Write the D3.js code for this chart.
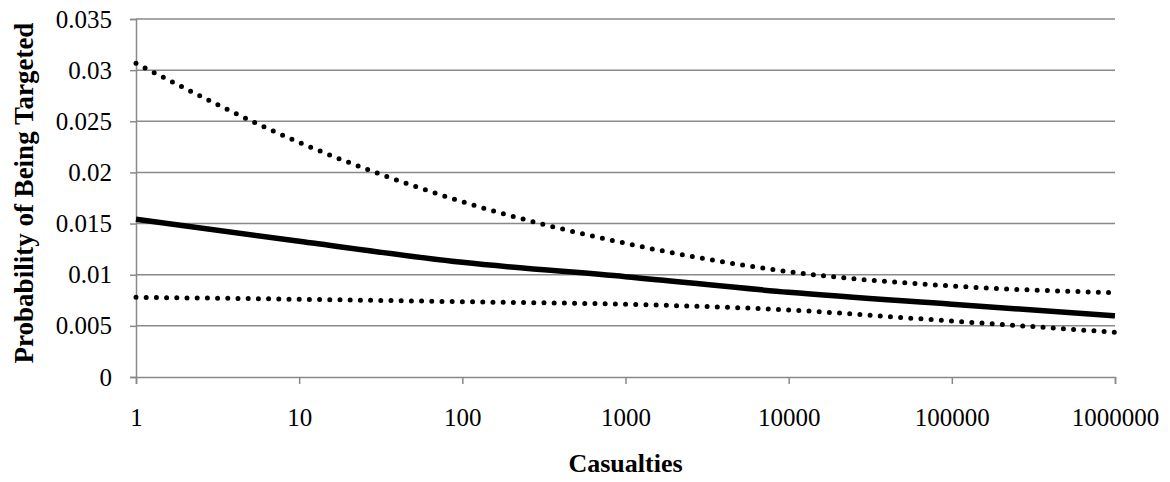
<!DOCTYPE html>
<html><head><meta charset="utf-8">
<script src="https://cdn.jsdelivr.net/npm/d3@7"></script>
<style>
html,body{margin:0;padding:0;background:#fff;}
svg{display:block;font-family:"Liberation Serif","Times New Roman",serif;}
</style></head>
<body><svg id="c" width="1170" height="482"></svg>
<script>
const casualties = [1, 10, 100, 1000, 10000, 100000, 1000000];
const estimate   = [0.01542, 0.01327, 0.01121, 0.00981, 0.00828, 0.00711, 0.00599];
const upperBound = [0.03067, 0.02294, 0.01714, 0.01307, 0.01030, 0.00890, 0.00824];
const lowerBound = [0.00779, 0.00760, 0.00736, 0.00711, 0.00655, 0.00547, 0.00437];
const xTickValues = [1, 10, 100, 1000, 10000, 100000, 1000000];
const yTickValues = [0, 0.005, 0.01, 0.015, 0.02, 0.025, 0.03, 0.035];
const xTitle = "Casualties";
const yTitle = "Probability of Being Targeted";

const svg = d3.select("#c");
const L = 136, R = 1115, T = 19, B = 377;
const x = d3.scaleLog().domain([1, 1000000]).range([L, R]);
const y = d3.scaleLinear().domain([0, 0.035]).range([B, T]);
const grey = "#898989";
const fs = 25;

// gridlines
svg.append("g").selectAll("line").data(yTickValues.filter(d => d > 0)).join("line")
  .attr("x1", L).attr("x2", R).attr("y1", d => y(d)).attr("y2", d => y(d))
  .attr("stroke", grey).attr("stroke-width", 1.5);

// y axis
const yAxis = svg.append("g").attr("transform", `translate(${L},0)`)
  .call(d3.axisLeft(y).tickValues(yTickValues).tickSize(6).tickPadding(18)
    .tickFormat(d => d === 0 ? "0" : String(+d.toFixed(3))));
yAxis.select(".domain").attr("stroke", grey).attr("stroke-width", 1.5);
yAxis.selectAll(".tick line").attr("stroke", grey).attr("stroke-width", 1.5);
yAxis.selectAll("text").attr("font-size", fs).attr("fill", "#000")
  .attr("font-family", "Liberation Serif");

// x axis
const xAxis = svg.append("g").attr("transform", `translate(0,${B})`)
  .call(d3.axisBottom(x).tickValues(xTickValues).tickSize(7).tickPadding(24)
    .tickFormat(d3.format("d")));
xAxis.select(".domain").attr("stroke", grey).attr("stroke-width", 1.5);
xAxis.selectAll(".tick line").attr("stroke", grey).attr("stroke-width", 1.5);
xAxis.selectAll("text").attr("font-size", fs).attr("fill", "#000")
  .attr("font-family", "Liberation Serif");

// lines
const line = vals => d3.line()
  .x((d, i) => x(casualties[i])).y(d => y(d))
  .curve(d3.curveMonotoneX)(vals);

svg.append("path").attr("d", line(upperBound)).attr("fill", "none")
  .attr("stroke", "#000").attr("stroke-width", 5).attr("stroke-linecap", "round")
  .attr("stroke-dasharray", "0 10.2");
svg.append("path").attr("d", line(lowerBound)).attr("fill", "none")
  .attr("stroke", "#000").attr("stroke-width", 5).attr("stroke-linecap", "round")
  .attr("stroke-dasharray", "0 10.2");
svg.append("path").attr("d", line(estimate)).attr("fill", "none")
  .attr("stroke", "#000").attr("stroke-width", 5.5);

// titles
svg.append("text").attr("x", (L + R) / 2).attr("y", 472).attr("text-anchor", "middle")
  .attr("font-size", fs + 1).attr("font-weight", "bold").text(xTitle);
svg.append("text").attr("transform", `translate(33,${(T + B) / 2 - 5}) rotate(-90)`)
  .attr("text-anchor", "middle").attr("font-size", 27).attr("font-weight", "bold").text(yTitle);
</script></body></html>
